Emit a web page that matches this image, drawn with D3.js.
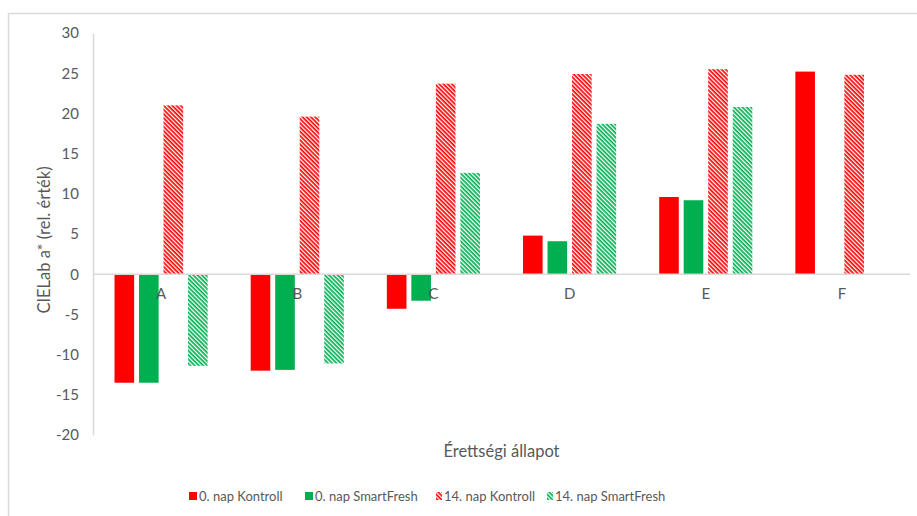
<!DOCTYPE html>
<html>
<head>
<meta charset="utf-8">
<script src="https://cdn.jsdelivr.net/npm/d3@7"></script>
<style>
  html, body { margin: 0; padding: 0; background: #fff; }
  svg { display: block; font-family: Lato, "Open Sans", sans-serif; }
</style>
</head>
<body>
<svg id="chart" width="917" height="516"></svg>
<script>
// Ripeness stages and CIELab a* readings per treatment
const categories = ["A", "B", "C", "D", "E", "F"];
const seriesNames = ["0. nap Kontroll", "0. nap SmartFresh", "14. nap Kontroll", "14. nap SmartFresh"];
const day0Control = [-13.5, -12.0, -4.3, 4.8, 9.6, 25.2];
const day0SmartFresh = [-13.5, -11.9, -3.3, 4.1, 9.2, null];
const day14Control = [21.0, 19.6, 23.7, 24.9, 25.5, 24.8];
const day14SmartFresh = [-11.4, -11.1, 12.6, 18.7, 20.8, null];
const yTicks = [-20, -15, -10, -5, 0, 5, 10, 15, 20, 25, 30];

const seriesValues = [day0Control, day0SmartFresh, day14Control, day14SmartFresh];
const seriesColors = ["#ff0000", "#00b050", "#ff0000", "#00b050"];
const seriesHatched = [false, false, true, true];

const svg = d3.select("#chart");
const W = 917, H = 516;
const plot = { left: 93, right: 910, top: 33, bottom: 435 };
const textColor = "#595959";

// chart frame
svg.append("rect")
  .attr("x", 8.5).attr("y", 13.5)
  .attr("width", W + 10).attr("height", H + 10)
  .attr("fill", "#fff").attr("stroke", "#d9d9d9").attr("stroke-width", 1.5);

// downward diagonal stripe fills
const defs = svg.append("defs");
function stripe(id, color) {
  const p = defs.append("pattern")
    .attr("id", id)
    .attr("patternUnits", "userSpaceOnUse")
    .attr("width", 3).attr("height", 3)
    .attr("patternTransform", "rotate(45)");
  p.append("rect").attr("width", 3).attr("height", 3).attr("fill", "#fff");
  p.append("rect").attr("width", 3).attr("height", 1.7).attr("fill", color);
}
stripe("hatch-red", "#ff0000");
stripe("hatch-green", "#00b050");
const hatchIds = ["", "", "hatch-red", "hatch-green"];
const fillOf = s => seriesHatched[s] ? `url(#${hatchIds[s]})` : seriesColors[s];

const x = d3.scaleBand().domain(categories).range([plot.left, plot.right]).padding(0);
const y = d3.scaleLinear().domain([-20, 30]).range([plot.bottom, plot.top]);

// bars within each group
const barStep = x.bandwidth() * 0.18;
const barW = barStep * 0.8;
const groupW = barStep * 3 + barW;

// y axis labels (plain hyphen for negatives)
const yAxis = d3.axisLeft(y).tickValues(yTicks).tickFormat(d => String(d))
  .tickSize(0).tickPadding(14);
const gy = svg.append("g").attr("transform", `translate(${plot.left},0)`).call(yAxis);
gy.select(".domain").attr("stroke", "#d9d9d9").attr("stroke-width", 1.5);
gy.selectAll("text").attr("fill", textColor).style("font-size", "15px")
  .style("font-family", "Lato, 'Open Sans', sans-serif");

// bars
seriesValues.forEach((vals, s) => {
  svg.append("g").selectAll("rect")
    .data(categories.map((c, i) => ({ c, v: vals[i] })).filter(d => d.v != null))
    .join("rect")
    .attr("x", d => x(d.c) + (x.bandwidth() - groupW) / 2 + s * barStep)
    .attr("width", barW)
    .attr("y", d => Math.min(y(d.v), y(0)))
    .attr("height", d => Math.abs(y(d.v) - y(0)))
    .attr("fill", fillOf(s));
});

// zero baseline
svg.append("line")
  .attr("x1", plot.left).attr("x2", plot.right)
  .attr("y1", y(0)).attr("y2", y(0))
  .attr("stroke", "#d9d9d9").attr("stroke-width", 1.5);

// category labels sit just below the zero line
const xAxis = d3.axisBottom(x).tickSize(0).tickPadding(14);
const gx = svg.append("g").attr("transform", `translate(0,${y(0)})`).call(xAxis);
gx.select(".domain").remove();
gx.selectAll("text").attr("fill", textColor).style("font-size", "15px")
  .style("font-family", "Lato, 'Open Sans', sans-serif");

// axis titles
svg.append("text")
  .attr("x", (plot.left + plot.right) / 2).attr("y", 457)
  .attr("text-anchor", "middle").attr("fill", textColor)
  .style("font-size", "16.5px")
  .text("Érettségi állapot");

svg.append("text")
  .attr("transform", `translate(50,240) rotate(-90)`)
  .attr("text-anchor", "middle").attr("fill", textColor)
  .style("font-size", "16.5px")
  .text("CIELab a* (rel. érték)");

// legend
const legendTextX = [199, 315, 444, 555];
const legend = svg.append("g").attr("transform", "translate(0,501)");
seriesNames.forEach((name, s) => {
  const g = legend.append("g").attr("transform", `translate(${legendTextX[s]},0)`);
  g.append("rect").attr("x", seriesHatched[s] ? -8 : -10).attr("y", -9)
    .attr("width", seriesHatched[s] ? 6 : 8).attr("height", 8)
    .attr("fill", fillOf(s));
  g.append("text").attr("x", 0).attr("y", 0)
    .attr("fill", textColor).style("font-size", "13px").text(name);
});
</script>
</body>
</html>
